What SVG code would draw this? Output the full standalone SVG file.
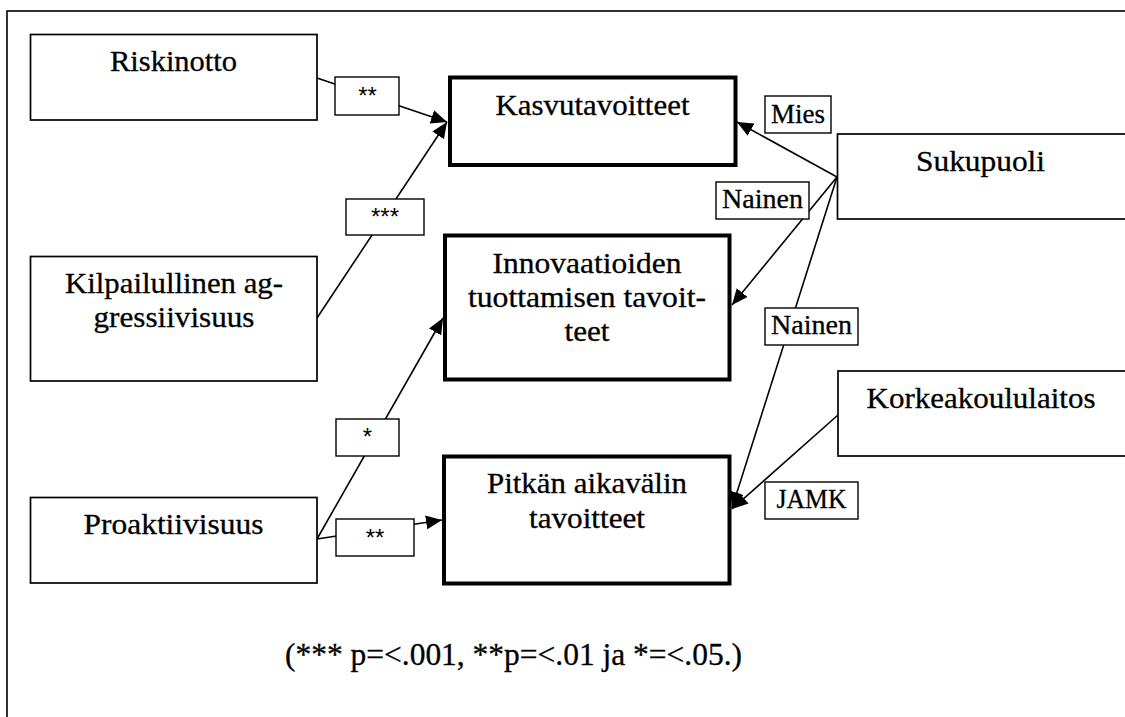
<svg xmlns="http://www.w3.org/2000/svg" width="1125" height="717" viewBox="0 0 1125 717">
  <style>
    .frame { fill: none; stroke: #000; stroke-width: 1.6; }
    .box { fill: #fff; stroke: #000; stroke-width: 1.7; }
    .goal { fill: #fff; stroke: #000; stroke-width: 4; }
    .tag { fill: #fff; stroke: #000; stroke-width: 1.4; }
    .wire { fill: none; stroke: #000; stroke-width: 1.6; }
    .arrow { marker-end: url(#head); }
    .t { font-family: 'Liberation Serif', 'DejaVu Serif', 'Times New Roman', serif; font-size: 29.3px; fill: #000; stroke: #000; stroke-width: 0.3; text-anchor: middle; }
    .lt { font-family: 'Liberation Serif', 'DejaVu Serif', 'Times New Roman', serif; font-size: 26.5px; fill: #000; stroke: #000; stroke-width: 0.3; text-anchor: middle; }
    .st { font-family: 'Liberation Sans', Arial, sans-serif; font-size: 24px; fill: #000; text-anchor: middle; }
    .note { font-family: 'Liberation Serif', 'DejaVu Serif', 'Times New Roman', serif; font-size: 32.5px; fill: #000; stroke: #000; stroke-width: 0.3; }
  </style>
  <defs>
    <marker id="head" markerUnits="userSpaceOnUse" markerWidth="16" markerHeight="14" refX="16" refY="7" orient="auto" viewBox="0 0 16 14">
      <path d="M0,0 L16,7 L0,14 z" fill="#000"/>
    </marker>
  </defs>

  <rect width="1125" height="717" fill="#fff"/>
  <!-- outer frame (open to the right and bottom) -->
  <rect class="frame" x="7" y="11" width="1140" height="730"/>

  <!-- connectors -->
  <g id="connectors">
    <line class="wire arrow" x1="317" y1="78" x2="447" y2="122"/>
    <line class="wire arrow" x1="317" y1="318" x2="447" y2="122"/>
    <line class="wire arrow" x1="317" y1="539" x2="443" y2="318"/>
    <line class="wire arrow" x1="317" y1="539" x2="442" y2="520"/>
    <line class="wire arrow" x1="837" y1="177" x2="737" y2="122"/>
    <line class="wire arrow" x1="837" y1="177" x2="732" y2="305"/>
    <line class="wire arrow" x1="837" y1="177" x2="732" y2="508"/>
    <line class="wire arrow" x1="838" y1="415" x2="732" y2="509"/>

    <!-- significance and group labels on the paths -->
    <g id="label-riski">
      <rect class="tag" x="335" y="77" width="64" height="38"/>
      <text class="st" x="367.5" y="104">**</text>
    </g>
    <g id="label-kilpailu">
      <rect class="tag" x="346" y="199" width="78" height="36"/>
      <text class="st" x="385" y="225">***</text>
    </g>
    <g id="label-proakt-innov">
      <rect class="tag" x="336" y="419" width="63" height="37"/>
      <text class="st" x="367.5" y="445">*</text>
    </g>
    <g id="label-proakt-pitka">
      <rect class="tag" x="336" y="519" width="78" height="37"/>
      <text class="st" x="375" y="546">**</text>
    </g>
    <g id="label-mies">
      <rect class="tag" x="765" y="96" width="66" height="37"/>
      <text class="lt" x="798" y="123" textLength="54" lengthAdjust="spacingAndGlyphs">Mies</text>
    </g>
    <g id="label-nainen-1">
      <rect class="tag" x="716" y="182" width="93" height="37"/>
      <text class="lt" x="762.5" y="208" textLength="81" lengthAdjust="spacingAndGlyphs">Nainen</text>
    </g>
    <g id="label-nainen-2">
      <rect class="tag" x="765" y="308" width="93" height="37"/>
      <text class="lt" x="811.5" y="334" textLength="81" lengthAdjust="spacingAndGlyphs">Nainen</text>
    </g>
    <g id="label-jamk">
      <rect class="tag" x="765" y="482" width="93" height="37"/>
      <text class="lt" x="811.5" y="508" textLength="70" lengthAdjust="spacingAndGlyphs">JAMK</text>
    </g>
  </g>

  <!-- predictors -->
  <g id="riskinotto">
    <rect class="box" x="30.5" y="34.5" width="286.5" height="85.5"/>
    <text class="t" x="173.5" y="71" textLength="127" lengthAdjust="spacingAndGlyphs">Riskinotto</text>
  </g>
  <g id="kilpailullinen-aggressiivisuus">
    <rect class="box" x="30.5" y="256.5" width="286.5" height="124.5"/>
    <text class="t" x="174" y="293" textLength="218" lengthAdjust="spacingAndGlyphs">Kilpailullinen ag-</text>
    <text class="t" x="174" y="327" textLength="161" lengthAdjust="spacingAndGlyphs">gressiivisuus</text>
  </g>
  <g id="proaktiivisuus">
    <rect class="box" x="30.5" y="497.5" width="286.5" height="85.5"/>
    <text class="t" x="173.5" y="534" textLength="180" lengthAdjust="spacingAndGlyphs">Proaktiivisuus</text>
  </g>

  <!-- outcome goals -->
  <g id="kasvutavoitteet">
    <rect class="goal" x="450" y="77.5" width="285.5" height="87.5"/>
    <text class="t" x="592.5" y="115" textLength="194" lengthAdjust="spacingAndGlyphs">Kasvutavoitteet</text>
  </g>
  <g id="innovaatiotavoitteet">
    <rect class="goal" x="445" y="235.5" width="284.5" height="144"/>
    <text class="t" x="587" y="273" textLength="189" lengthAdjust="spacingAndGlyphs">Innovaatioiden</text>
    <text class="t" x="587" y="307" textLength="238" lengthAdjust="spacingAndGlyphs">tuottamisen tavoit-</text>
    <text class="t" x="587" y="341" textLength="45" lengthAdjust="spacingAndGlyphs">teet</text>
  </g>
  <g id="pitkan-aikavalin-tavoitteet">
    <rect class="goal" x="444" y="456.5" width="285.5" height="127"/>
    <text class="t" x="587" y="493" textLength="200" lengthAdjust="spacingAndGlyphs">Pitkän aikavälin</text>
    <text class="t" x="587" y="528" textLength="116" lengthAdjust="spacingAndGlyphs">tavoitteet</text>
  </g>

  <!-- background variables -->
  <g id="sukupuoli">
    <rect class="box" x="837.5" y="134" width="300" height="85"/>
    <text class="t" x="980.5" y="171" textLength="129" lengthAdjust="spacingAndGlyphs">Sukupuoli</text>
  </g>
  <g id="korkeakoululaitos">
    <rect class="box" x="838" y="371" width="300" height="85"/>
    <text class="t" x="981" y="408" textLength="229" lengthAdjust="spacingAndGlyphs">Korkeakoululaitos</text>
  </g>

  <!-- significance legend -->
  <text class="note" x="285" y="665" textLength="457" lengthAdjust="spacingAndGlyphs">(*** p=&lt;.001, **p=&lt;.01 ja *=&lt;.05.)</text>
</svg>
